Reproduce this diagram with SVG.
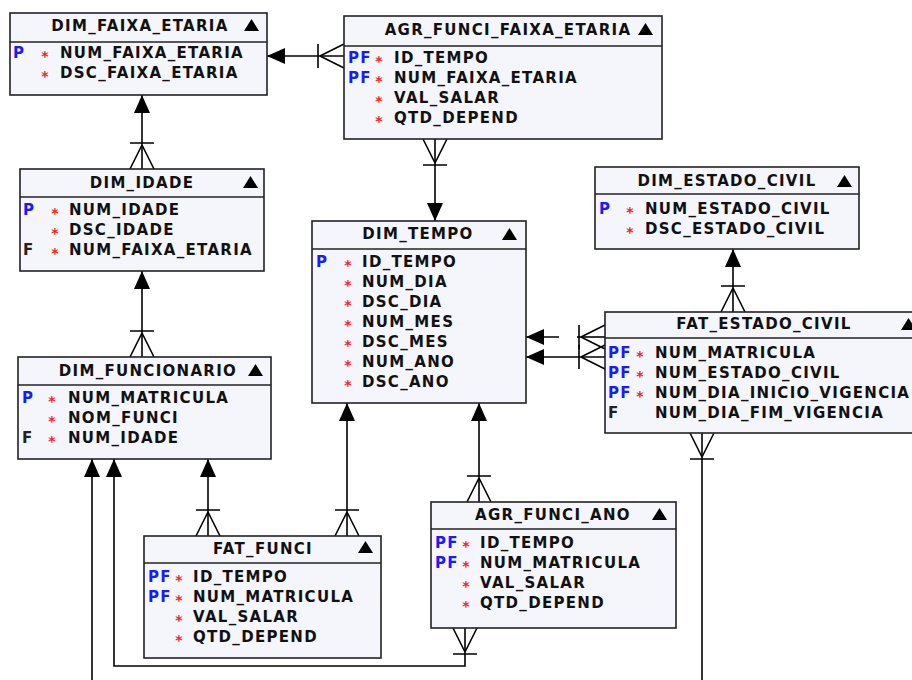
<svg xmlns="http://www.w3.org/2000/svg" xmlns:xlink="http://www.w3.org/1999/xlink" width="912" height="680" viewBox="0 0 912 680">
  <style>
    .box { fill: #f5f5fc; stroke: #222; stroke-width: 1.6; }
    .sep { stroke: #222; stroke-width: 1.6; }
    text { font-family: "DejaVu Sans", Verdana, sans-serif; font-weight: bold; font-size: 15px; letter-spacing: 1.3px; }
    .title { fill: #111; text-anchor: middle; }
    .name { fill: #111; }
    .pk { fill: #1a1aff; }
    .fk { fill: #222; }
    .req { fill: #ff1a1a; font-size: 14px; text-anchor: middle; letter-spacing: 0; }
    .tri { fill: #000; }
    .rel { fill: none; stroke: #000; stroke-width: 1.6; }
    .mk { fill: none; stroke: #000; stroke-width: 1.6; }
    .ah { fill: #000; stroke: none; }
  </style>
  <defs>
    <path id="tri" d="M0,12 L7.5,0 L15,12 Z"/>
    <!-- filled arrowhead at the referenced (parent) table -->
    <marker id="one" viewBox="0 0 18 16" refX="18" refY="8" markerWidth="18" markerHeight="16" markerUnits="userSpaceOnUse" orient="auto-start-reverse" overflow="visible">
      <path class="ah" d="M0,0 L18,8 L0,16 Z"/>
    </marker>
    <!-- crow's foot with bar at the referencing (child) table -->
    <marker id="many" viewBox="-30 -14 32 28" refX="0" refY="0" markerWidth="32" markerHeight="28" markerUnits="userSpaceOnUse" orient="auto" overflow="visible">
      <path class="mk" d="M-24,0 L0,-12 M-24,0 L0,12 M-26,-12 L-26,12"/>
    </marker>
  </defs>

  <g id="connectors">
    <!-- AGR_FUNCI_FAIXA_ETARIA -> DIM_FAIXA_ETARIA -->
    <path class="rel" d="M267,56 L344,56" marker-start="url(#one)" marker-end="url(#many)"/>
    <!-- AGR_FUNCI_FAIXA_ETARIA -> DIM_TEMPO -->
    <path class="rel" d="M435,221 L435,139" marker-start="url(#one)" marker-end="url(#many)"/>
    <!-- DIM_IDADE -> DIM_FAIXA_ETARIA -->
    <path class="rel" d="M142,95 L142,169" marker-start="url(#one)" marker-end="url(#many)"/>
    <!-- DIM_FUNCIONARIO -> DIM_IDADE -->
    <path class="rel" d="M142,271 L142,357" marker-start="url(#one)" marker-end="url(#many)"/>
    <!-- FAT_ESTADO_CIVIL -> DIM_ESTADO_CIVIL -->
    <path class="rel" d="M733,249 L733,312" marker-start="url(#one)" marker-end="url(#many)"/>
    <!-- FAT_ESTADO_CIVIL -> DIM_TEMPO (two references) -->
    <path class="rel" d="M526,337 L559,337" marker-start="url(#one)"/>
    <path class="rel" d="M577,337 L605,337" marker-end="url(#many)"/>
    <path class="rel" d="M526,357 L605,357" marker-start="url(#one)" marker-end="url(#many)"/>
    <!-- FAT_ESTADO_CIVIL downward -->
    <path class="rel" d="M702,680 L702,433" marker-end="url(#many)"/>
    <!-- DIM_FUNCIONARIO downward references -->
    <path class="rel" d="M92,459 L92,680" marker-start="url(#one)"/>
    <path class="rel" d="M114,459 L114,666 L465,666 L465,628" marker-start="url(#one)" marker-end="url(#many)"/>
    <path class="rel" d="M208,459 L208,536" marker-start="url(#one)" marker-end="url(#many)"/>
    <!-- FAT_FUNCI -> DIM_TEMPO -->
    <path class="rel" d="M347,403 L347,536" marker-start="url(#one)" marker-end="url(#many)"/>
    <!-- AGR_FUNCI_ANO -> DIM_TEMPO -->
    <path class="rel" d="M479,403 L479,502" marker-start="url(#one)" marker-end="url(#many)"/>
  </g>

  <g id="DIM_FAIXA_ETARIA">
    <rect class="box" x="10" y="13" width="257" height="82"/>
    <line class="sep" x1="10" y1="42" x2="267" y2="42"/>
    <text class="title" x="140" y="31">DIM_FAIXA_ETARIA</text>
    <use href="#tri" class="tri" x="244" y="19"/>
    <text class="pk" x="13" y="58">P</text><text class="req" x="45" y="60.5">*</text><text class="name" x="60" y="58">NUM_FAIXA_ETARIA</text>
    <text class="req" x="45" y="80.5">*</text><text class="name" x="60" y="78">DSC_FAIXA_ETARIA</text>
  </g>

  <g id="AGR_FUNCI_FAIXA_ETARIA">
    <rect class="box" x="344" y="16" width="318" height="123"/>
    <line class="sep" x1="344" y1="46" x2="662" y2="46"/>
    <text class="title" x="508" y="35">AGR_FUNCI_FAIXA_ETARIA</text>
    <use href="#tri" class="tri" x="638" y="23"/>
    <text class="pk" x="348" y="63">PF</text><text class="req" x="379" y="65.5">*</text><text class="name" x="394" y="63">ID_TEMPO</text>
    <text class="pk" x="348" y="83">PF</text><text class="req" x="379" y="85.5">*</text><text class="name" x="394" y="83">NUM_FAIXA_ETARIA</text>
    <text class="req" x="379" y="105.5">*</text><text class="name" x="394" y="103">VAL_SALAR</text>
    <text class="req" x="379" y="125.5">*</text><text class="name" x="394" y="123">QTD_DEPEND</text>
  </g>

  <g id="DIM_IDADE">
    <rect class="box" x="20" y="169" width="244" height="102"/>
    <line class="sep" x1="20" y1="197" x2="264" y2="197"/>
    <text class="title" x="142" y="188">DIM_IDADE</text>
    <use href="#tri" class="tri" x="243" y="176"/>
    <text class="pk" x="23" y="215">P</text><text class="req" x="55" y="217.5">*</text><text class="name" x="69" y="215">NUM_IDADE</text>
    <text class="req" x="55" y="237.5">*</text><text class="name" x="69" y="235">DSC_IDADE</text>
    <text class="fk" x="23" y="255">F</text><text class="req" x="55" y="257.5">*</text><text class="name" x="69" y="255">NUM_FAIXA_ETARIA</text>
  </g>

  <g id="DIM_FUNCIONARIO">
    <rect class="box" x="18" y="357" width="253" height="102"/>
    <line class="sep" x1="18" y1="385" x2="271" y2="385"/>
    <text class="title" x="148" y="376">DIM_FUNCIONARIO</text>
    <use href="#tri" class="tri" x="248" y="364"/>
    <text class="pk" x="22" y="403">P</text><text class="req" x="52" y="405.5">*</text><text class="name" x="68" y="403">NUM_MATRICULA</text>
    <text class="req" x="52" y="425.5">*</text><text class="name" x="68" y="423">NOM_FUNCI</text>
    <text class="fk" x="22" y="443">F</text><text class="req" x="52" y="445.5">*</text><text class="name" x="68" y="443">NUM_IDADE</text>
  </g>

  <g id="DIM_TEMPO">
    <rect class="box" x="312" y="221" width="214" height="182"/>
    <line class="sep" x1="312" y1="249" x2="526" y2="249"/>
    <text class="title" x="418" y="239">DIM_TEMPO</text>
    <use href="#tri" class="tri" x="502" y="228"/>
    <text class="pk" x="316" y="267">P</text><text class="req" x="348" y="269.5">*</text><text class="name" x="362" y="267">ID_TEMPO</text>
    <text class="req" x="348" y="289.5">*</text><text class="name" x="362" y="287">NUM_DIA</text>
    <text class="req" x="348" y="309.5">*</text><text class="name" x="362" y="307">DSC_DIA</text>
    <text class="req" x="348" y="329.5">*</text><text class="name" x="362" y="327">NUM_MES</text>
    <text class="req" x="348" y="349.5">*</text><text class="name" x="362" y="347">DSC_MES</text>
    <text class="req" x="348" y="369.5">*</text><text class="name" x="362" y="367">NUM_ANO</text>
    <text class="req" x="348" y="389.5">*</text><text class="name" x="362" y="387">DSC_ANO</text>
  </g>

  <g id="DIM_ESTADO_CIVIL">
    <rect class="box" x="595" y="167" width="264" height="82"/>
    <line class="sep" x1="595" y1="194" x2="859" y2="194"/>
    <text class="title" x="727" y="186">DIM_ESTADO_CIVIL</text>
    <use href="#tri" class="tri" x="837" y="175"/>
    <text class="pk" x="599" y="214">P</text><text class="req" x="630" y="216.5">*</text><text class="name" x="645" y="214">NUM_ESTADO_CIVIL</text>
    <text class="req" x="630" y="236.5">*</text><text class="name" x="645" y="234">DSC_ESTADO_CIVIL</text>
  </g>

  <g id="FAT_ESTADO_CIVIL">
    <rect class="box" x="605" y="312" width="320" height="121"/>
    <line class="sep" x1="605" y1="338" x2="925" y2="338"/>
    <text class="title" x="764" y="329">FAT_ESTADO_CIVIL</text>
    <use href="#tri" class="tri" x="901" y="318"/>
    <text class="pk" x="608" y="358">PF</text><text class="req" x="640" y="360.5">*</text><text class="name" x="655" y="358">NUM_MATRICULA</text>
    <text class="pk" x="608" y="378">PF</text><text class="req" x="640" y="380.5">*</text><text class="name" x="655" y="378">NUM_ESTADO_CIVIL</text>
    <text class="pk" x="608" y="398">PF</text><text class="req" x="640" y="400.5">*</text><text class="name" x="655" y="398">NUM_DIA_INICIO_VIGENCIA</text>
    <text class="fk" x="608" y="418">F</text><text class="name" x="655" y="418">NUM_DIA_FIM_VIGENCIA</text>
  </g>

  <g id="FAT_FUNCI">
    <rect class="box" x="144" y="536" width="237" height="122"/>
    <line class="sep" x1="144" y1="563" x2="381" y2="563"/>
    <text class="title" x="263" y="554">FAT_FUNCI</text>
    <use href="#tri" class="tri" x="358" y="541"/>
    <text class="pk" x="148" y="582">PF</text><text class="req" x="179" y="584.5">*</text><text class="name" x="193" y="582">ID_TEMPO</text>
    <text class="pk" x="148" y="602">PF</text><text class="req" x="179" y="604.5">*</text><text class="name" x="193" y="602">NUM_MATRICULA</text>
    <text class="req" x="179" y="624.5">*</text><text class="name" x="193" y="622">VAL_SALAR</text>
    <text class="req" x="179" y="644.5">*</text><text class="name" x="193" y="642">QTD_DEPEND</text>
  </g>

  <g id="AGR_FUNCI_ANO">
    <rect class="box" x="431" y="502" width="245" height="126"/>
    <line class="sep" x1="431" y1="529" x2="676" y2="529"/>
    <text class="title" x="553" y="520">AGR_FUNCI_ANO</text>
    <use href="#tri" class="tri" x="652" y="508"/>
    <text class="pk" x="435" y="548">PF</text><text class="req" x="466" y="550.5">*</text><text class="name" x="480" y="548">ID_TEMPO</text>
    <text class="pk" x="435" y="568">PF</text><text class="req" x="466" y="570.5">*</text><text class="name" x="480" y="568">NUM_MATRICULA</text>
    <text class="req" x="466" y="590.5">*</text><text class="name" x="480" y="588">VAL_SALAR</text>
    <text class="req" x="466" y="610.5">*</text><text class="name" x="480" y="608">QTD_DEPEND</text>
  </g>
</svg>
